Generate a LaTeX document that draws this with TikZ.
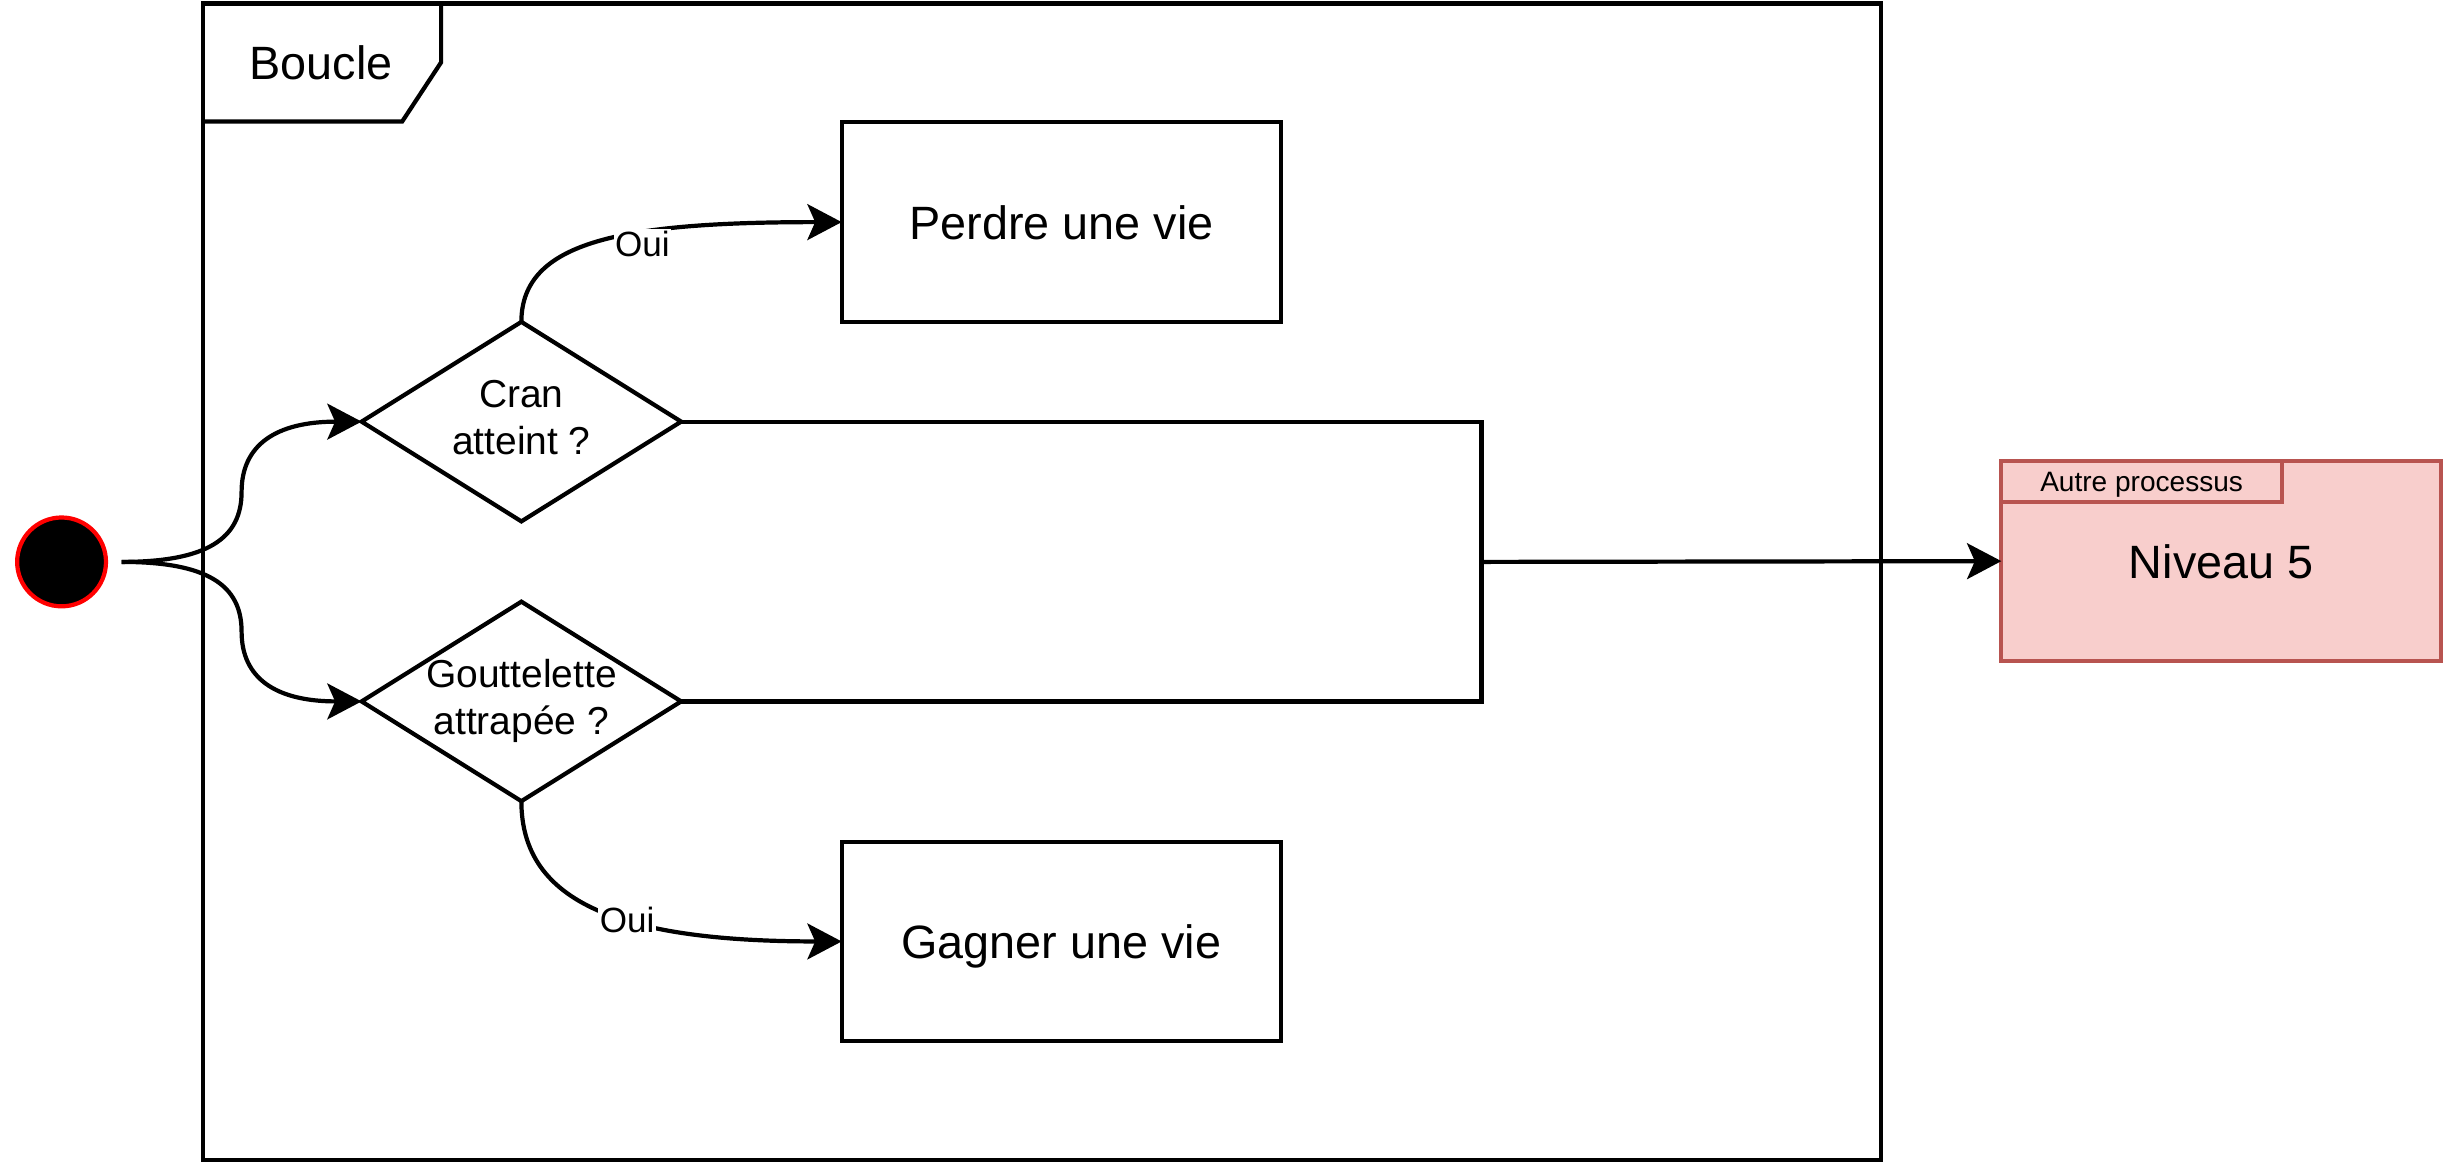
\documentclass[tikz,border=0pt]{standalone}
\usepackage{fontspec}
\setmainfont{Liberation Sans}
\usetikzlibrary{arrows.meta,shapes.geometric}
\definecolor{pinkfill}{HTML}{F8CECC}
\definecolor{pinkstroke}{HTML}{B85450}
\begin{document}
\begin{tikzpicture}[x=1pt,y=-1pt,
  outl/.style={draw, line width=2.7pt, inner sep=0pt, outer sep=0pt, line join=miter},
  box/.style={outl, rectangle, minimum width=282pt, minimum height=128pt, text depth=0pt, font=\fontsize{30}{36}\selectfont},
  dia/.style={outl, diamond, minimum width=205pt, minimum height=128pt, font=\fontsize{25}{30}\selectfont},
  arr/.style={line width=2.7pt, -{Stealth[length=22pt,width=23pt,inset=5pt]}},
  conn/.style={line width=2.7pt, line join=miter},
  oui/.style={fill=white, inner sep=1pt, font=\fontsize{22.5}{27}\selectfont},
]
\useasboundingbox (0,0) rectangle (1568,746.8);

% loop frame
\node[outl, rectangle, anchor=north west, minimum width=1077pt, minimum height=742pt] (loop) at (130,2.2) {};
\draw[line width=2.7pt, line join=miter] (loop.north west) -- (283,2.2) -- (283,40) -- (258,78) -- (130,78);
\node[font=\fontsize{30}{36}\selectfont] (tboucle) at (206,40) {Boucle};

% initial state
\node[circle, draw=red, fill=black, line width=2.7pt, minimum size=57pt, inner sep=0pt] (init) at (39.5,360.5) {};
\coordinate (s0) at (78,360.5);

% decisions
\node[dia] (d1) at (334.5,270.5) {\makebox[0pt]{\raisebox{-3pt}{\begin{tabular}{@{}c@{}}Cran\\atteint ?\end{tabular}}}};
\node[dia] (d2) at (334.5,450) {\makebox[0pt]{\raisebox{-3pt}{\begin{tabular}{@{}c@{}}Gouttelette\\attrapée ?\end{tabular}}}};

% actions
\node[box] (perdre) at (681,142.5) {Perdre une vie};
\node[box] (gagner) at (681,604) {Gagner une vie};

% other process
\node[box, fill=pinkfill, draw=pinkstroke] (niv) at (1425,360) {Niveau 5};
\node[outl, rectangle, draw=pinkstroke, fill=pinkfill, anchor=north west, minimum width=180pt, minimum height=26pt, text depth=0pt, font=\fontsize{18}{22}\selectfont] (tab) at (niv.north west) {Autre processus};

% helper coordinates
\coordinate (m1) at (155,315.5);
\coordinate (m2) at (155,405.25);
\coordinate (j) at (950.5,360.5);

% connectors
\draw[arr] (s0) .. controls +(55,0) and +(0,30) .. (m1) .. controls +(0,-30) and +(-55,0) .. (d1.west);
\draw[arr] (s0) .. controls +(55,0) and +(0,-30) .. (m2) .. controls +(0,30) and +(-55,0) .. (d2.west);

\draw[arr] (d1.north) .. controls +(0,-52) and +(-140,0) .. (perdre.west) node[oui, pos=0.62, yshift=-7pt] (l1) {Oui};
\draw[arr] (d2.south) .. controls +(0,66) and +(-140,0) .. (gagner.west) node[oui, pos=0.58] (l2) {Oui};

\draw[conn] (d1.east) -| (j);
\draw[conn] (d2.east) -| (j);
\draw[arr] (j) -- (niv.west);
\end{tikzpicture}
\end{document}
